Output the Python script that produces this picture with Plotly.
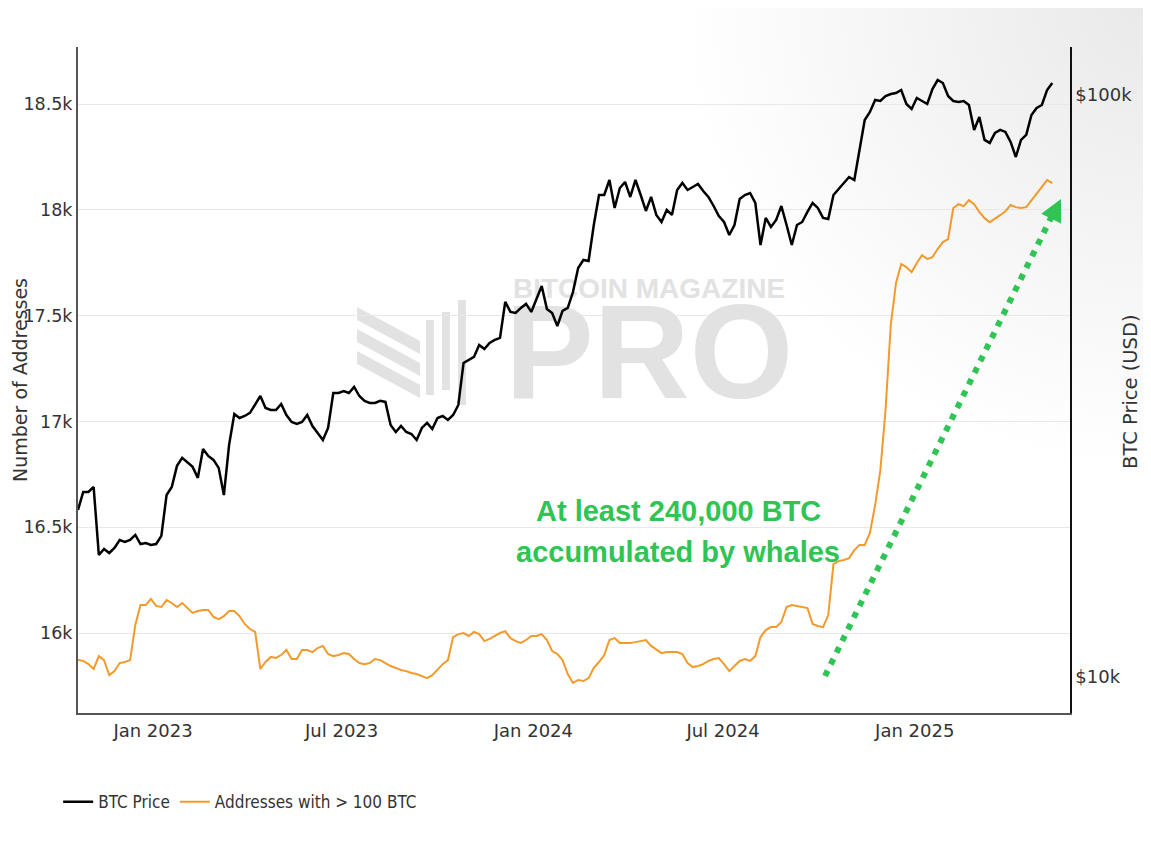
import base64
import pandas as pd
import plotly.graph_objects as go

# Data, one point every 5 days starting 2022-10-21
start_date = "2022-10-21"

btc_price = [
    19360, 20790, 20790, 21200, 16200, 16590, 16330, 16660, 17190, 17060,
    17190, 17540, 16920, 16990, 16860, 16920, 17470, 20540, 21200, 23050,
    23790, 23330, 22960, 21980, 24650, 23980, 23600, 22870, 20540, 25050,
    28300, 27860, 28080, 28420, 29330, 30390, 28990, 28760, 28760, 29450,
    28190, 27420, 27210, 27420, 28190, 26990, 26260, 25540, 26780, 30760,
    30760, 31000, 30760, 31500, 30390, 29810, 29570, 29570, 29810, 29690,
    27100, 26360, 26990, 26360, 26150, 25540, 26780, 27320, 26670, 27860,
    28080, 27640, 28190, 29330, 34640, 35050, 35470, 37200, 36610, 37490,
    37940, 38240, 44100, 42390, 42220, 43060, 43750, 42390, 44800, 46970,
    42890, 42220, 40090, 42560, 43060, 45860, 50430, 52060, 51850, 59790,
    67330, 67330, 71450, 63960, 69220, 70890, 66800, 71450, 67330, 63200,
    66800, 62210, 60510, 63450, 62210, 68680, 70610, 68680, 69500, 70330,
    68410, 66800, 64460, 61960, 60510, 57470, 59790, 66280, 67330, 67870,
    65230, 55240, 61480, 59320, 60990, 64460, 59790, 55240, 59790, 60510,
    62950, 65230, 63960, 61480, 61230, 67330, 68950, 70610, 72300, 71450,
    80450, 90580, 93500, 98040, 97650, 99600, 100400, 100800, 102000, 96500,
    94620, 98820, 97650, 96500, 102400, 106110, 104860, 99600, 97650, 97270,
    97650, 96120, 87090, 91670, 83720, 82730, 86060, 87090, 86410, 83050,
    78250, 83720, 85390, 92400, 94990, 96120, 102000, 104860,
]

addresses_100 = [
    15872, 15868, 15853, 15830, 15891, 15872, 15801, 15820, 15858, 15863,
    15872, 16038, 16132, 16132, 16161, 16128, 16123, 16156, 16142, 16123,
    16142, 16118, 16095, 16104, 16109, 16109, 16076, 16066, 16080, 16104,
    16104, 16080, 16043, 16019, 16005, 15830, 15863, 15887, 15882, 15896,
    15920, 15877, 15877, 15920, 15920, 15910, 15929, 15939, 15901, 15891,
    15896, 15905, 15901, 15877, 15858, 15853, 15858, 15877, 15872, 15858,
    15844, 15835, 15825, 15820, 15811, 15806, 15797, 15787, 15801, 15825,
    15853, 15872, 15981, 15995, 16000, 15986, 16005, 15995, 15962, 15972,
    15986, 16000, 16009, 15976, 15962, 15953, 15967, 15986, 15986, 15995,
    15967, 15915, 15901, 15872, 15806, 15764, 15778, 15773, 15787, 15835,
    15863, 15896, 15967, 15976, 15953, 15953, 15953, 15957, 15962, 15967,
    15939, 15920, 15905, 15910, 15910, 15910, 15901, 15858, 15839, 15844,
    15853, 15868, 15877, 15882, 15853, 15820, 15844, 15868, 15877, 15868,
    15891, 15981, 16014, 16028, 16028, 16052, 16123, 16132, 16128, 16123,
    16118, 16043, 16033, 16028, 16085, 16326, 16340, 16345, 16354, 16392,
    16416, 16416, 16473, 16605, 16770, 17054, 17456, 17654, 17744, 17730,
    17706, 17749, 17786, 17768, 17777, 17815, 17848, 17862, 18009, 18027,
    18018, 18046, 18027, 17990, 17961, 17942, 17957, 17975, 17994, 18023,
    18013, 18009, 18013, 18046, 18075, 18108, 18141, 18127,
]

dates = pd.date_range(start_date, periods=len(btc_price), freq="5D")

left_ticks = [16000, 16500, 17000, 17500, 18000, 18500]
left_labels = ["16k", "16.5k", "17k", "17.5k", "18k", "18.5k"]
right_ticks = [10000, 100000]
right_labels = ["$10k", "$100k"]

GREEN = "#2fc453"
WM = "rgb(226,226,226)"
TXT = "#333333"

# soft grey glow in the top-right corner of the page
svg = ("<svg xmlns='http://www.w3.org/2000/svg' width='1151' height='846' "
       "viewBox='0 0 1151 846' preserveAspectRatio='none'><defs>"
       "<radialGradient id='g' cx='1151' cy='0' r='470' gradientUnits='userSpaceOnUse'>"
       "<stop offset='0' stop-color='#e9e9e9'/><stop offset='1' stop-color='#ffffff'/>"
       "</radialGradient></defs><rect width='1151' height='846' fill='url(#g)'/></svg>")
bg_src = "data:image/svg+xml;base64," + base64.b64encode(svg.encode()).decode()

fig = go.Figure()

# watermark text (drawn first so the lines sit on top of it)
fig.add_trace(go.Scatter(
    x=["2024-04-21", "2024-04-21"], y=[17617, 17266],
    mode="text", text=["BITCOIN MAGAZINE", "PRO"],
    textfont=dict(family="Liberation Sans", size=[28, 133], color=WM, weight="bold"),
    showlegend=False, hoverinfo="skip",
))

fig.add_trace(go.Scatter(
    x=dates, y=btc_price, name="BTC Price", yaxis="y2",
    mode="lines", line=dict(color="#000000", width=2.5),
))
fig.add_trace(go.Scatter(
    x=dates, y=addresses_100, name="Addresses with > 100 BTC",
    mode="lines", line=dict(color="#f39a2c", width=2),
))

# watermark logo stripes
shapes = []
for i in range(3):
    d = 0.0331 * i
    shapes.append(dict(
        type="path", xref="paper", yref="paper", layer="below",
        path=f"M0.2813,{0.6096-d:.4f} L0.3448,{0.5586-d:.4f} L0.3448,{0.5390-d:.4f} L0.2813,{0.5901-d:.4f} Z",
        fillcolor=WM, line=dict(width=0),
    ))
for x0, x1, y0, y1 in [(0.3508, 0.3589, 0.4775, 0.5901),
                       (0.3669, 0.3750, 0.4850, 0.6021),
                       (0.3831, 0.3911, 0.4625, 0.6201)]:
    shapes.append(dict(type="rect", xref="paper", yref="paper", layer="below",
                       x0=x0, x1=x1, y0=y0, y1=y1, fillcolor=WM, line=dict(width=0)))

# dotted green arrow
shapes.append(dict(
    type="line", xref="paper", yref="paper",
    x0=0.7530, y0=0.0556, x1=0.9809, y1=0.7437,
    line=dict(color=GREEN, width=6, dash="6px,7px"),
))

# the page body has an 8px margin, so the figure is sized to fit inside it
fig.update_layout(
    width=1143, height=838,
    margin=dict(l=70, r=81, t=39, b=133, autoexpand=False),
    paper_bgcolor="white", plot_bgcolor="rgba(0,0,0,0)",
    font=dict(family="DejaVu Sans", size=16, color=TXT),
    shapes=shapes,
    images=[dict(source=bg_src, xref="paper", yref="paper",
                 x=-0.0786, y=1.0706, sizex=1.1603, sizey=1.2703,
                 xanchor="left", yanchor="top", sizing="stretch", layer="below")],
    showlegend=True,
    legend=dict(
        orientation="h", x=-0.02, xanchor="left", y=-0.134, yanchor="middle",
        font=dict(family="DejaVu Sans Condensed", size=17, color=TXT),
        bgcolor="rgba(0,0,0,0)",
    ),
    xaxis=dict(
        range=["2022-10-21", "2025-05-30"],
        tick0="2023-01-01", dtick="M6", tickformat="%b %Y",
        showgrid=False, zeroline=False, automargin=False,
        showline=True, linecolor="#555555", linewidth=2,
        ticks="", tickfont=dict(size=18, color=TXT),
    ),
    yaxis=dict(
        range=[15622, 18770],
        tickvals=left_ticks, ticktext=left_labels,
        showgrid=True, gridcolor="#e8e8e8", gridwidth=1,
        zeroline=False, showline=True, linecolor="#555555", linewidth=2,
        ticks="", tickfont=dict(size=17.5, color=TXT), automargin=False,
    ),
    yaxis2=dict(
        type="log", overlaying="y", side="right",
        range=[3.938, 5.0825],
        tickvals=right_ticks, ticktext=right_labels,
        showgrid=False, zeroline=False, automargin=False,
        showline=True, linecolor="#111111", linewidth=1.5,
        ticks="", tickfont=dict(size=18, color=TXT),
    ),
    annotations=[
        dict(text="Number of Addresses", xref="paper", yref="paper",
             x=-0.0585, y=0.5, xanchor="center", yanchor="middle",
             textangle=-90, showarrow=False, font=dict(size=19, color=TXT)),
        dict(text="BTC Price (USD)", xref="paper", yref="paper",
             x=1.0615, y=0.482, xanchor="center", yanchor="middle",
             textangle=-90, showarrow=False, font=dict(size=19.5, color=TXT)),
        dict(text="<b>At least 240,000 BTC</b>", xref="paper", yref="paper",
             x=0.605, y=0.303, xanchor="center", yanchor="middle", showarrow=False,
             font=dict(family="Liberation Sans", size=29, color=GREEN)),
        dict(text="<b>accumulated by whales</b>", xref="paper", yref="paper",
             x=0.605, y=0.242, xanchor="center", yanchor="middle", showarrow=False,
             font=dict(family="Liberation Sans", size=29, color=GREEN)),
        dict(text="", xref="paper", yref="paper", x=0.9909, y=0.7718,
             showarrow=True, ax=-8, ay=16, axref="pixel", ayref="pixel",
             arrowhead=2, arrowsize=1.1, arrowwidth=4, arrowcolor=GREEN, standoff=0),
    ],
)

fig.write_html("out.html")
